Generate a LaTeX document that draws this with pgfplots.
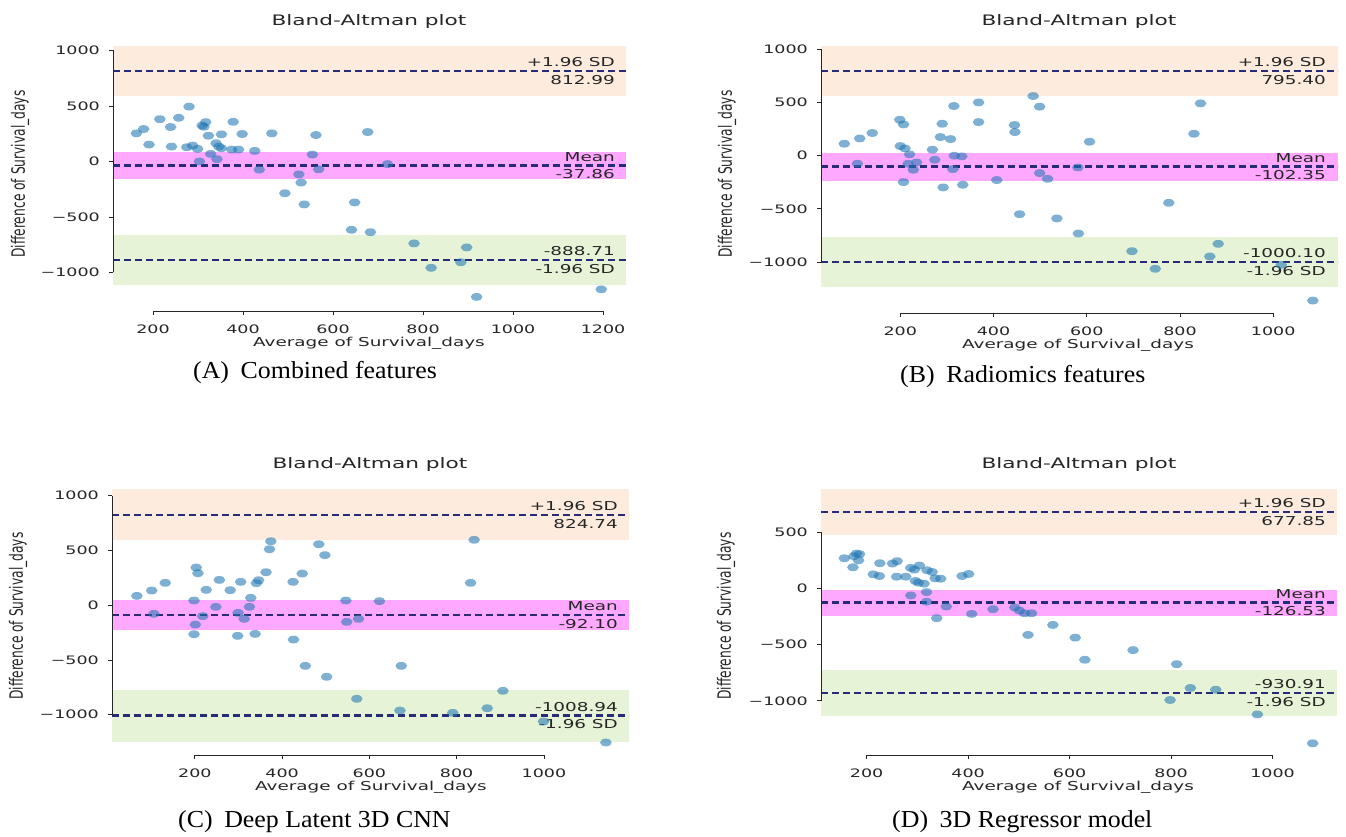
\documentclass[border=0pt]{standalone}
\usepackage{fontspec}
\setmainfont{DejaVu Sans}
\newfontfamily\capfont{Liberation Serif}
\usepackage{graphicx}
\usepackage{pgfplots}
\pgfplotsset{compat=1.18}

\definecolor{peach}{RGB}{253,235,222}
\definecolor{meanband}{RGB}{255,168,255}
\definecolor{lowband}{RGB}{231,243,214}
\definecolor{tabblue}{RGB}{31,119,180}
\definecolor{navyl}{RGB}{40,44,120}
\definecolor{txt}{RGB}{38,38,38}

\newcommand{\wide}[1]{\scalebox{1.5}[1]{#1}}
\newcommand{\tall}[1]{\scalebox{1}[1.5]{#1}}

\tikzset{
  note/.style={font=\fontsize{12.3}{12}\selectfont, text=txt, inner sep=0pt},
  spine/.style={txt, line width=0.9bp},
  ttl/.style={font=\fontsize{14.5}{15}\selectfont, text=txt, inner sep=0pt, anchor=base},
  lbl/.style={font=\fontsize{12.3}{13}\selectfont, text=txt, inner sep=0pt},
  captxt/.style={font=\capfont\fontsize{24.5}{24}\selectfont, text=black, inner sep=0pt, anchor=base west},
}
\pgfplotsset{
  ba/.style={
    scale only axis,
    anchor=south west,
    axis x line*=bottom, axis y line*=left,
    axis line style={draw=none},
    tick align=outside,
    major tick length=4bp,
    tick style={color=txt, line width=0.8bp},
    xticklabel style={font=\fontsize{11.7}{12}\selectfont, text=txt, inner sep=0pt, anchor=base, yshift=-19bp},
    yticklabel style={font=\fontsize{11.7}{12}\selectfont, text=txt, inner sep=0pt, anchor=east, xshift=-9bp},
    clip=false,
  },
  pts/.style={only marks, mark=*, mark size=3.9bp, color=tabblue,
    mark options={xscale=1.5, draw opacity=0, fill=tabblue, fill opacity=0.58}},
  sdline/.style={navyl, line width=2.4bp, dash pattern=on 7bp off 4bp},
}

\begin{document}
\begin{tikzpicture}
\path[use as bounding box] (0,0) rectangle (1346bp,837bp);

% ---------------- Panel A ----------------
\begin{axis}[ba, at={(113bp,526bp)}, width=513bp, height=265bp,
  xmin=111, xmax=1251, ymin=-1347, ymax=1040,
  xtick={200,400,600,800,1000,1200},
  xticklabels={\wide{200},\wide{400},\wide{600},\wide{800},\wide{1000},\wide{1200}},
  ytick={-1000,-500,0,500,1000},
  yticklabels={\wide{−1000},\wide{−500},\wide{0},\wide{500},\wide{1000}}]
\addplot[draw=none, fill=peach] coordinates {(111,593) (1251,593) (1251,1040) (111,1040)} -- cycle;
\addplot[draw=none, fill=meanband] coordinates {(111,-159) (1251,-159) (1251,83) (111,83)} -- cycle;
\addplot[draw=none, fill=lowband] coordinates {(111,-1111) (1251,-1111) (1251,-667) (111,-667)} -- cycle;
\addplot[sdline] coordinates {(111,812.99) (1251,812.99)};
\addplot[sdline] coordinates {(111,-37.86) (1251,-37.86)};
\addplot[sdline] coordinates {(111,-888.71) (1251,-888.71)};
\addplot[pts] table {
163 253
179 292
191 152
215 381
239 310
241 134
257 393
280 494
275 128
288 143
299 113
309 324
317 354
313 312
323 232
303 0
328 68
340 164
346 134
352 244
342 21
352 119
378 357
375 107
390 107
398 247
426 95
436 -74
464 253
493 -286
524 -116
529 -190
536 -387
554 62
562 238
568 -71
641 -616
648 -369
677 265
683 -637
721 -24
780 -738
818 -958
884 -908
897 -774
919 -1220
1196 -1152
};
\draw[spine] (axis cs:200,-1347) -- (axis cs:1200,-1347);
\draw[spine] (axis cs:111,-1000) -- (axis cs:111,1000);
\node[note, anchor=south east, xshift=-11bp, yshift=4bp] at (axis cs:1251,812.99) {\wide{+1.96 SD}};
\node[note, anchor=north east, xshift=-11bp, yshift=-4bp] at (axis cs:1251,812.99) {\wide{812.99}};
\node[note, anchor=south east, xshift=-11bp, yshift=4bp] at (axis cs:1251,-37.86) {\wide{Mean}};
\node[note, anchor=north east, xshift=-11bp, yshift=-4bp] at (axis cs:1251,-37.86) {\wide{-37.86}};
\node[note, anchor=south east, xshift=-11bp, yshift=4bp] at (axis cs:1251,-888.71) {\wide{-888.71}};
\node[note, anchor=north east, xshift=-11bp, yshift=-4bp] at (axis cs:1251,-888.71) {\wide{-1.96 SD}};
\end{axis}

% ---------------- Panel B ----------------
\begin{axis}[ba, at={(821bp,524bp)}, width=517bp, height=267bp,
  xmin=30, xmax=1139, ymin=-1480, ymax=1033,
  xtick={200,400,600,800,1000},
  xticklabels={\wide{200},\wide{400},\wide{600},\wide{800},\wide{1000}},
  ytick={-1000,-500,0,500,1000},
  yticklabels={\wide{−1000},\wide{−500},\wide{0},\wide{500},\wide{1000}}]
\addplot[draw=none, fill=peach] coordinates {(30,561) (1139,561) (1139,1033) (30,1033)} -- cycle;
\addplot[draw=none, fill=meanband] coordinates {(30,-234) (1139,-234) (1139,30) (30,30)} -- cycle;
\addplot[draw=none, fill=lowband] coordinates {(30,-1232) (1139,-1232) (1139,-768) (30,-768)} -- cycle;
\addplot[sdline] coordinates {(30,795.40) (1139,795.40)};
\addplot[sdline] coordinates {(30,-102.35) (1139,-102.35)};
\addplot[sdline] coordinates {(30,-1000.10) (1139,-1000.10)};
\addplot[pts] table {
80 113
113 163
140 214
108 -75
199 339
207 295
200 91
210 69
220 13
217 -75
235 -63
228 -132
207 -248
269 57
274 -38
286 176
290 301
292 -298
308 157
315 468
316 0
332 -6
313 -126
334 -273
368 502
368 317
407 -229
445 289
446 223
456 -550
485 562
499 462
499 -163
516 -217
536 -590
581 -110
582 -732
606 132
697 -898
747 -1064
776 -443
830 207
844 493
864 -948
882 -829
1017 -1027
1085 -1363
};
\draw[spine] (axis cs:200,-1480) -- (axis cs:1000,-1480);
\draw[spine] (axis cs:30,-1000) -- (axis cs:30,1000);
\node[note, anchor=south east, xshift=-12bp, yshift=4bp] at (axis cs:1139,795.40) {\wide{+1.96 SD}};
\node[note, anchor=north east, xshift=-12bp, yshift=-4bp] at (axis cs:1139,795.40) {\wide{795.40}};
\node[note, anchor=south east, xshift=-12bp, yshift=4bp] at (axis cs:1139,-102.35) {\wide{Mean}};
\node[note, anchor=north east, xshift=-12bp, yshift=-4bp] at (axis cs:1139,-102.35) {\wide{-102.35}};
\node[note, anchor=south east, xshift=-12bp, yshift=4bp] at (axis cs:1139,-1000.10) {\wide{-1000.10}};
\node[note, anchor=north east, xshift=-12bp, yshift=-4bp] at (axis cs:1139,-1000.10) {\wide{-1.96 SD}};
\end{axis}

% ---------------- Panel C ----------------
\begin{axis}[ba, at={(112bp,82bp)}, width=517bp, height=266bp,
  xmin=10, xmax=1195, ymin=-1368, ymax=1061,
  xtick={200,400,600,800,1000},
  xticklabels={\wide{200},\wide{400},\wide{600},\wide{800},\wide{1000}},
  ytick={-1000,-500,0,500,1000},
  yticklabels={\wide{−1000},\wide{−500},\wide{0},\wide{500},\wide{1000}}]
\addplot[draw=none, fill=peach] coordinates {(10,592) (1195,592) (1195,1057) (10,1057)} -- cycle;
\addplot[draw=none, fill=meanband] coordinates {(10,-228) (1195,-228) (1195,44) (10,44)} -- cycle;
\addplot[draw=none, fill=lowband] coordinates {(10,-1246) (1195,-1246) (1195,-772) (10,-772)} -- cycle;
\addplot[sdline] coordinates {(10,824.74) (1195,824.74)};
\addplot[sdline] coordinates {(10,-92.10) (1195,-92.10)};
\addplot[sdline] coordinates {(10,-1008.94) (1195,-1008.94)};
\addplot[pts] table {
67 85
101 134
132 204
106 -79
203 344
207 292
198 43
201 -177
198 -265
218 -100
226 140
248 -15
256 231
281 137
299 -70
298 -280
305 213
313 -125
325 -15
328 67
338 -262
341 201
346 228
363 301
371 511
374 584
425 213
426 -314
446 289
453 -554
484 557
498 457
502 -654
546 43
548 -152
575 -125
571 -855
623 37
673 -554
670 -962
791 -983
832 204
840 597
870 -941
906 -782
999 -1062
1142 -1254
};
\draw[spine] (axis cs:200,-1368) -- (axis cs:1000,-1368);
\draw[spine] (axis cs:10,-1000) -- (axis cs:10,1000);
\node[note, anchor=south east, xshift=-11bp, yshift=4bp] at (axis cs:1195,824.74) {\wide{+1.96 SD}};
\node[note, anchor=north east, xshift=-11bp, yshift=-4bp] at (axis cs:1195,824.74) {\wide{824.74}};
\node[note, anchor=south east, xshift=-11bp, yshift=4bp] at (axis cs:1195,-92.10) {\wide{Mean}};
\node[note, anchor=north east, xshift=-11bp, yshift=-4bp] at (axis cs:1195,-92.10) {\wide{-92.10}};
\node[note, anchor=south east, xshift=-11bp, yshift=4bp] at (axis cs:1195,-1008.94) {\wide{-1008.94}};
\node[note, anchor=north east, xshift=-11bp, yshift=-4bp] at (axis cs:1195,-1008.94) {\wide{-1.96 SD}};
\end{axis}

% ---------------- Panel D ----------------
\begin{axis}[ba, at={(821bp,82bp)}, width=516bp, height=266bp,
  xmin=110, xmax=1127, ymin=-1482, ymax=884,
  xtick={200,400,600,800,1000},
  xticklabels={\wide{200},\wide{400},\wide{600},\wide{800},\wide{1000}},
  ytick={-1000,-500,0,500},
  yticklabels={\wide{−1000},\wide{−500},\wide{0},\wide{500}}]
\addplot[draw=none, fill=peach] coordinates {(110,472) (1127,472) (1127,884) (110,884)} -- cycle;
\addplot[draw=none, fill=meanband] coordinates {(110,-243) (1127,-243) (1127,-10) (110,-10)} -- cycle;
\addplot[draw=none, fill=lowband] coordinates {(110,-1138) (1127,-1138) (1127,-724) (110,-724)} -- cycle;
\addplot[sdline] coordinates {(110,677.85) (1127,677.85)};
\addplot[sdline] coordinates {(110,-126.53) (1127,-126.53)};
\addplot[sdline] coordinates {(110,-930.91) (1127,-930.91)};
\addplot[pts] table {
156 268
173 188
175 286
180 310
186 304
184 250
213 125
225 110
226 224
251 221
260 242
259 104
277 104
287 182
294 167
304 203
296 66
302 51
313 42
287 -63
318 -33
318 -119
319 161
329 146
335 89
346 86
338 -265
357 -161
388 110
401 128
407 -227
449 -185
492 -170
501 -197
511 -221
525 -221
518 -414
567 -325
611 -438
630 -635
725 -549
811 -674
798 -993
838 -886
888 -901
970 -1121
1079 -1378
};
\draw[spine] (axis cs:200,-1482) -- (axis cs:1000,-1482);
\draw[spine] (axis cs:110,-1000) -- (axis cs:110,500);
\node[note, anchor=south east, xshift=-11bp, yshift=4bp] at (axis cs:1127,677.85) {\wide{+1.96 SD}};
\node[note, anchor=north east, xshift=-11bp, yshift=-4bp] at (axis cs:1127,677.85) {\wide{677.85}};
\node[note, anchor=south east, xshift=-11bp, yshift=4bp] at (axis cs:1127,-126.53) {\wide{Mean}};
\node[note, anchor=north east, xshift=-11bp, yshift=-4bp] at (axis cs:1127,-126.53) {\wide{-126.53}};
\node[note, anchor=south east, xshift=-11bp, yshift=4bp] at (axis cs:1127,-930.91) {\wide{-930.91}};
\node[note, anchor=north east, xshift=-11bp, yshift=-4bp] at (axis cs:1127,-930.91) {\wide{-1.96 SD}};
\end{axis}

% ---------------- titles, axis labels, captions ----------------
\node[ttl] at (369bp,811bp) {\wide{Bland-Altman plot}};
\node[ttl] at (1079bp,811bp) {\wide{Bland-Altman plot}};
\node[ttl] at (370bp,368bp) {\wide{Bland-Altman plot}};
\node[ttl] at (1079bp,368bp) {\wide{Bland-Altman plot}};

\node[lbl, anchor=base] at (369bp,490bp) {\wide{Average of Survival\_days}};
\node[lbl, anchor=base] at (1078bp,488bp) {\wide{Average of Survival\_days}};
\node[lbl, anchor=base] at (371bp,46bp) {\wide{Average of Survival\_days}};
\node[lbl, anchor=base] at (1078bp,46bp) {\wide{Average of Survival\_days}};

\node[lbl, rotate=90] at (20bp,663bp) {\tall{Difference of Survival\_days}};
\node[lbl, rotate=90] at (727bp,663bp) {\tall{Difference of Survival\_days}};
\node[lbl, rotate=90] at (18bp,221bp) {\tall{Difference of Survival\_days}};
\node[lbl, rotate=90] at (726bp,221bp) {\tall{Difference of Survival\_days}};

\node[captxt] at (193bp,458bp) {\scalebox{1.06}[1]{(A)\hspace{0.45em}Combined features}};
\node[captxt] at (900bp,454.5bp) {\scalebox{1.06}[1]{(B)\hspace{0.45em}Radiomics features}};
\node[captxt] at (178bp,10bp) {\scalebox{1.06}[1]{(C)\hspace{0.45em}Deep Latent 3D CNN}};
\node[captxt] at (892bp,10bp) {\scalebox{1.06}[1]{(D)\hspace{0.45em}3D Regressor model}};
\end{tikzpicture}
\end{document}
